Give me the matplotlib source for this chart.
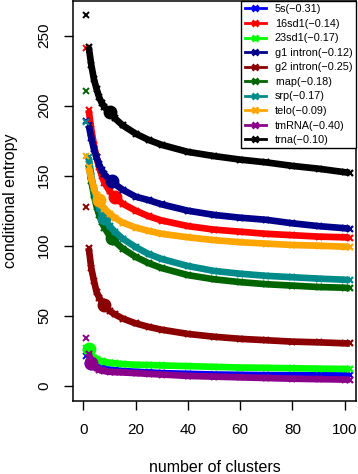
import matplotlib
matplotlib.use("Agg")
import matplotlib.pyplot as plt
from matplotlib.lines import Line2D

plt.rcParams['font.family'] = ['Liberation Sans', 'DejaVu Sans']
plt.rcParams['axes.unicode_minus'] = True

# data
names = ['5s', '16sd1', '23sd1', 'g1 intron', 'g2 intron',
         'rnap', 'srp', 'telo', 'tmRNA', 'trna']
scores = [-0.31, -0.14, -0.17, -0.12, -0.25, -0.18, -0.17, -0.09, -0.40, -0.10]
colors = ['#0000FF', '#FF0000', '#00FF00', '#00008B', '#8B0000',
          '#006400', '#008B8B', '#FFA500', '#8B008B', '#000000']

# value with a single cluster (drawn on its own)
first_val = [21, 241, 27, 189, 128, 210.5, 188.6, 164, 33.8, 264.8]

n_clusters = [2, 3, 4, 5, 6, 7, 8, 10, 12, 15, 20, 25, 30,
              40, 50, 60, 70, 80, 90, 100, 102]

ent_5s = [20, 16, 14.5, 13.5, 13, 12.5, 12, 11.5, 11, 10.5, 10, 9.5, 9,
          8.5, 8, 7.8, 7.6, 7.5, 7.4, 7.4, 7.4]
ent_16sd1 = [197, 183, 172, 163, 156, 150, 145, 139, 134.5, 130, 125, 121, 118,
             114, 111.5, 110, 108.5, 107.5, 106.5, 106, 105.5]
ent_23sd1 = [26, 22, 20, 19, 18, 17.5, 17, 16.5, 16, 15.5, 15, 14.8, 14.5,
             14, 13.5, 13, 12.8, 12.5, 12.2, 12, 11.9]
ent_g1 = [186, 177, 169, 163, 158, 154, 151, 147, 144, 140, 135, 132.5, 129.5,
          125, 122, 120, 118.5, 116, 114, 112.5, 112]
ent_g2 = [98.5, 84, 75, 67, 63, 60, 57.5, 53.5, 51, 48, 44.5, 42, 40,
          37, 35, 33.5, 32.5, 31.5, 31, 30.3, 30.2]
ent_rnap = [158, 146, 136, 128, 122, 117, 113, 107, 103, 98, 92, 87.5, 84,
            79, 76, 74, 72.5, 71.5, 70.5, 70, 69.6]
ent_srp = [163, 150, 140, 133, 127, 123, 119.6, 114, 110, 105, 99, 94, 90.5,
           85.5, 82, 80, 78.5, 77.5, 76.5, 75.7, 75.5]
ent_telo = [156, 148, 141, 136, 132.5, 129, 126.5, 123, 120, 116.5, 113, 110.5, 108.5,
            106, 104, 102.5, 101.5, 100.5, 100, 99.3, 99]
ent_tmrna = [23, 16, 14, 12.5, 11.5, 11, 10.5, 10, 9.7, 9.5, 9, 8.5, 8,
             7, 6.5, 6, 5.5, 5, 4.7, 4.4, 4.3]
ent_trna = [242, 229, 219, 212, 206, 202, 199, 195.5, 191, 186, 180, 175.5, 172,
            167, 164, 161.5, 159.5, 157, 155, 152.5, 152]

series = [ent_5s, ent_16sd1, ent_23sd1, ent_g1, ent_g2,
          ent_rnap, ent_srp, ent_telo, ent_tmrna, ent_trna]

# chosen number of clusters (big dots)
best_k = [3, 12, 2, 11, 8, 11, 8, 6, 3, 10]
best_val = [16, 134.5, 26, 146, 57.5, 105.3, 119.6, 132.5, 16, 195.5]

fig = plt.figure(figsize=(3.58, 4.74), dpi=100)
ax = fig.add_axes([0.204, 0.1546, 0.790, 0.8434])

for i, ys in enumerate(series):
    c = colors[i]
    ax.plot(n_clusters, ys, color=c, lw=4.8, solid_capstyle='butt', zorder=2 + i)
    ax.plot(n_clusters, ys, ls='none', marker='x', ms=5, mew=1.6, color=c, zorder=2 + i)
    ax.plot([1], [first_val[i]], ls='none', marker='x', ms=5, mew=1.4, color=c, zorder=2 + i)
    ax.plot([best_k[i]], [best_val[i]], ls='none', marker='o', ms=9, color=c, zorder=2 + i)

ax.set_xlim(-4, 104.3)
ax.set_ylim(-10.7, 274.8)
ax.set_xticks([0, 20, 40, 60, 80, 100])
ax.set_yticks([0, 50, 100, 150, 200, 250])
ax.tick_params(axis='both', direction='out', length=6.8, width=1, labelsize=11, pad=9)
for lab in ax.get_yticklabels():
    lab.set_rotation(90)
    lab.set_va('center')
for sp in ax.spines.values():
    sp.set_linewidth(1.1)
    sp.set_color('black')

ax.set_xlabel('number of clusters', fontsize=11.5, labelpad=17)
ax.set_ylabel('conditional entropy', fontsize=11.5, labelpad=14)

handles = [Line2D([], [], color=colors[i], lw=2, marker='x', ms=5, mew=2)
           for i in range(len(names))]
labels = [f'{names[i]}({scores[i]:.2f})'.replace('-', '\u2212') for i in range(len(names))]
leg = ax.legend(handles, labels, loc='upper right', fontsize=7.8, frameon=True,
                fancybox=False, edgecolor='black', framealpha=1,
                labelspacing=0.42, handlelength=2.0, handletextpad=0.8,
                borderpad=0.3, borderaxespad=0.0)
leg.get_frame().set_linewidth(1.0)

fig.savefig('out.png', dpi=100)
